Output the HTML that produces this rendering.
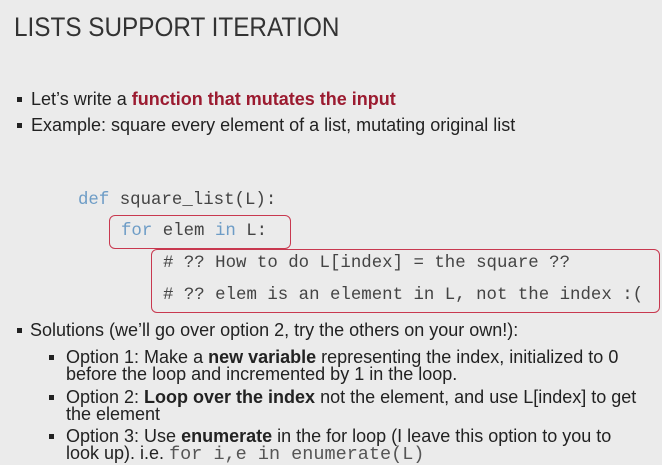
<!DOCTYPE html>
<html><head><meta charset="utf-8"><style>
html,body{margin:0;padding:0}
body{width:662px;height:462px;background:#ebebeb;position:relative;overflow:hidden;font-family:"Liberation Sans",sans-serif;color:#222}
.t{position:absolute;white-space:nowrap;line-height:1;transform-origin:0 0}
.s{font-size:18px}
.b{position:absolute;width:5px;height:5px;background:#222}
.m{position:absolute;white-space:nowrap;font-family:"Liberation Mono",monospace;font-size:17.4px;line-height:1;color:#444}
.k{color:#6d9cc6}
.r{color:#9b1b30;font-weight:bold}
.box{position:absolute;border:1.5px solid #c8384f;border-radius:6px}
</style></head><body>
<div class="t" style="left:14px;top:14px;font-size:27px;color:#333;transform:scaleX(0.9)">LISTS SUPPORT ITERATION</div>

<div class="b" style="left:17px;top:97px"></div>
<div class="t s" style="left:31px;top:90px">Let’s write a <span class="r">function that mutates the input</span></div>
<div class="b" style="left:17px;top:123px"></div>
<div class="t s" style="left:31px;top:116px">Example: square every element of a list, mutating original list</div>

<div class="m" style="left:78px;top:192px"><span class="k">def</span> square_list(L):</div>
<div class="box" style="left:109px;top:215px;width:180px;height:32px"></div>
<div class="m" style="left:121px;top:223px"><span class="k">for</span> elem <span class="k">in</span> L:</div>
<div class="box" style="left:151px;top:249px;width:507px;height:62px"></div>
<div class="m" style="left:163px;top:255px"># ?? How to do L[index] = the square ??</div>
<div class="m" style="left:163px;top:287px"># ?? elem is an element in L, not the index :(</div>

<div class="b" style="left:17px;top:328px"></div>
<div class="t s" style="left:30px;top:321px">Solutions (we’ll go over option 2, try the others on your own!):</div>
<div class="b" style="left:49px;top:355px"></div>
<div class="t s" style="left:66px;top:348px">Option 1: Make a <b>new variable</b> representing the index, initialized to 0</div>
<div class="t s" style="left:66px;top:365px">before the loop and incremented by 1 in the loop.</div>
<div class="b" style="left:49px;top:395px"></div>
<div class="t s" style="left:66px;top:388px">Option 2: <b>Loop over the index</b> not the element, and use L[index] to get</div>
<div class="t s" style="left:66px;top:405px">the element</div>
<div class="b" style="left:49px;top:434px"></div>
<div class="t s" style="left:66px;top:427px">Option 3: Use <b>enumerate</b> in the for loop (I leave this option to you to</div>
<div class="t s" style="left:66px;top:444px">look up). i.e. <span style="font-family:'Liberation Mono',monospace;font-size:18.5px;color:#555">for i,e in enumerate(L)</span></div>
</body></html>
